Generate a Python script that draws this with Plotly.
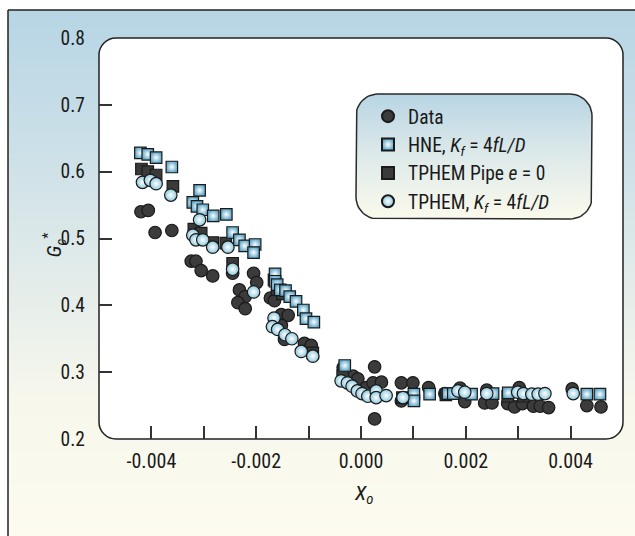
import math
import plotly.graph_objects as go

# ---------------- data (x = X_o, y = G_c*) ----------------
data_x = [-0.00420, -0.00406, -0.00393, -0.00361, -0.00324, -0.00315, -0.00305, -0.00283,
          -0.00245, -0.00232, -0.00221, -0.00235, -0.00221, -0.00205, -0.00199, -0.00173,
          -0.00165, -0.00152, -0.00139, -0.00152, -0.00146, -0.00108, -0.00095,
          -0.00034, -0.00015, -0.00006, 0.00010, 0.00023, 0.00026, 0.00039, 0.00026,
          0.00077, 0.00099, 0.00077, 0.00129, 0.00160, 0.00189, 0.00198, 0.00240,
          0.00236, 0.00250, 0.00280, 0.00293, 0.00302, 0.00308, 0.00329, 0.00342,
          0.00358, 0.00403, 0.00431, 0.00458]
data_y = [0.540, 0.542, 0.509, 0.512, 0.466, 0.466, 0.452, 0.444,
          0.448, 0.423, 0.413, 0.404, 0.395, 0.448, 0.434, 0.411,
          0.407, 0.386, 0.385, 0.370, 0.349, 0.343, 0.340,
          0.307, 0.294, 0.290, 0.277, 0.284, 0.308, 0.285, 0.230,
          0.284, 0.284, 0.257, 0.277, 0.268, 0.276, 0.256, 0.273,
          0.254, 0.254, 0.253, 0.248, 0.277, 0.253, 0.249, 0.249,
          0.247, 0.275, 0.250, 0.248]

hne_x = [-0.00421, -0.00407, -0.00391, -0.00361, -0.00308, -0.00321, -0.00313, -0.00302,
         -0.00282, -0.00257, -0.00245, -0.00232, -0.00222, -0.00202, -0.00205,
         -0.00164, -0.00164, -0.00160, -0.00154, -0.00144, -0.00136, -0.00124, -0.00110,
         -0.00105, -0.00090, -0.00031, 0.00101, 0.00101, 0.00131, 0.00166, 0.00176,
         0.00211, 0.00252, 0.00281, 0.00431, 0.00456]
hne_y = [0.628, 0.626, 0.621, 0.607, 0.572, 0.554, 0.548, 0.543,
         0.534, 0.536, 0.509, 0.498, 0.489, 0.491, 0.479,
         0.447, 0.436, 0.431, 0.423, 0.422, 0.413, 0.406, 0.393,
         0.380, 0.375, 0.310, 0.267, 0.257, 0.267, 0.268, 0.268,
         0.267, 0.268, 0.269, 0.267, 0.267]

pipe_x = [-0.00419, -0.00407, -0.00391, -0.00359, -0.00319, -0.00305, -0.00283, -0.00258,
          -0.00245, -0.00166, -0.00160, -0.00150, -0.00092, -0.00035, 0.00079, 0.00162,
          0.00280, 0.00310]
pipe_y = [0.604, 0.600, 0.595, 0.578, 0.514, 0.508, 0.494, 0.493,
          0.463, 0.438, 0.424, 0.417, 0.329, 0.295, 0.262, 0.266,
          0.264, 0.264]

kf_x = [-0.00417, -0.00402, -0.00391, -0.00363, -0.00308, -0.00321, -0.00315, -0.00302,
        -0.00283, -0.00254, -0.00245, -0.00205, -0.00166, -0.00169, -0.00159, -0.00145,
        -0.00132, -0.00114, -0.00092,
        -0.00038, -0.00026, -0.00017, -0.00007, 0.00002, 0.00013, 0.00029, 0.00029,
        0.00048, 0.00080, 0.00185, 0.00198, 0.00240, 0.00299, 0.00310, 0.00326,
        0.00338, 0.00351, 0.00405]
kf_y = [0.584, 0.587, 0.582, 0.565, 0.528, 0.505, 0.498, 0.498,
        0.487, 0.487, 0.454, 0.420, 0.381, 0.368, 0.364, 0.356,
        0.350, 0.331, 0.324,
        0.287, 0.284, 0.279, 0.272, 0.268, 0.264, 0.272, 0.262,
        0.265, 0.262, 0.272, 0.270, 0.268, 0.270, 0.268, 0.267,
        0.267, 0.268, 0.268]

x_tickvals = [-0.004, -0.002, 0.0, 0.002, 0.004]
x_ticktext = ["-0.004", "-0.002", "0.000", "0.002", "0.004"]
x_minor = [-0.003, -0.001, 0.001, 0.003]
y_tickvals = [0.2, 0.3, 0.4, 0.5, 0.6, 0.7, 0.8]
y_ticktext = ["0.2", "0.3", "0.4", "0.5", "0.6", "0.7", "0.8"]
y_minor = [0.3, 0.4, 0.5, 0.6, 0.7]

# ---------------- geometry helpers ----------------
W, H = 635, 536
ML, MR, MT, MB = 99, 12, 38, 97
PW, PH = W - ML - MR, H - MT - MB
XR = (-0.005, 0.005)
YR = (0.2, 0.8)
FONT = "Roboto Condensed, Liberation Sans Narrow, sans-serif"
TXT = "#1a1a1a"


def pxx(px):
    return (px - ML) / PW


def pxy(py):
    return (H - MB - py) / PH


def dx(px):
    return XR[0] + (px - ML) / PW * (XR[1] - XR[0])


def dy(py):
    return YR[1] - (py - MT) / PH * (YR[1] - YR[0])


def rr_path(x0, y0, x1, y1, r):
    k = 0.5523 * r

    def P(x, y):
        return f"{pxx(x):.5f},{pxy(y):.5f}"
    s = f"M{P(x0 + r, y0)} L{P(x1 - r, y0)} "
    s += f"C{P(x1 - r + k, y0)} {P(x1, y0 + r - k)} {P(x1, y0 + r)} "
    s += f"L{P(x1, y1 - r)} C{P(x1, y1 - r + k)} {P(x1 - r + k, y1)} {P(x1 - r, y1)} "
    s += f"L{P(x0 + r, y1)} C{P(x0 + r - k, y1)} {P(x0, y1 - r + k)} {P(x0, y1 - r)} "
    s += f"L{P(x0, y0 + r)} C{P(x0, y0 + r - k)} {P(x0 + r - k, y0)} {P(x0 + r, y0)} Z"
    return s


def lerp(c1, c2, t):
    return tuple(round(a + (b - a) * t) for a, b in zip(c1, c2))


bg_stops = [(10, (183, 213, 229)), (150, (204, 224, 232)), (280, (227, 236, 234)),
            (400, (247, 247, 236)), (536, (253, 251, 239))]


def bg_color(py):
    for (p0, c0), (p1, c1) in zip(bg_stops[:-1], bg_stops[1:]):
        if p0 <= py <= p1:
            return lerp(c0, c1, (py - p0) / (p1 - p0))
    return bg_stops[-1][1]


shapes = []
step = 3
py = 10
while py < 536:
    c = bg_color(py + step / 2)
    shapes.append(dict(type="rect", xref="paper", yref="paper", layer="below",
                       x0=pxx(8), x1=pxx(640), y0=pxy(py + step + 0.5), y1=pxy(py),
                       fillcolor=f"rgb{c}", line=dict(width=0)))
    py += step
# outer frame (left and top)
shapes.append(dict(type="line", xref="paper", yref="paper", layer="below",
                   x0=pxx(8), x1=pxx(8), y0=pxy(540), y1=pxy(10), line=dict(color="#222", width=1.5)))
shapes.append(dict(type="line", xref="paper", yref="paper", layer="below",
                   x0=pxx(8), x1=pxx(640), y0=pxy(10), y1=pxy(10), line=dict(color="#222", width=1.5)))
# white rounded plot box
shapes.append(dict(type="path", xref="paper", yref="paper", layer="below",
                   path=rr_path(ML, MT, W - MR, H - MB, 17),
                   fillcolor="white", line=dict(color="#222", width=1.5)))

# legend rounded box (filled outline with vertical gradient)
LX0, LY0, LX1, LY1, LR = 356, 94, 592, 219, 22
bx, by = [], []
corners = [(LX1 - LR, LY0 + LR, -90, 0), (LX1 - LR, LY1 - LR, 0, 90),
           (LX0 + LR, LY1 - LR, 90, 180), (LX0 + LR, LY0 + LR, 180, 270)]
for cx, cy, a0, a1 in corners:
    for i in range(13):
        a = math.radians(a0 + (a1 - a0) * i / 12)
        bx.append(dx(cx + LR * math.cos(a)))
        by.append(dy(cy + LR * math.sin(a)))
bx.append(bx[0])
by.append(by[0])

fig = go.Figure()
fig.add_trace(go.Scatter(
    x=bx, y=by, mode="lines", fill="toself", showlegend=False, hoverinfo="skip",
    line=dict(color="#2a2a2a", width=1.5),
    fillgradient=dict(type="vertical", start=dy(LY1), stop=dy(LY0),
                      colorscale=[[0, "rgb(251,250,236)"], [0.5, "rgb(222,234,234)"],
                                  [1, "rgb(184,213,228)"]])))

OUT = dict(color="#1a1a1a", width=1.2)
fig.add_trace(go.Scatter(x=data_x, y=data_y, mode="markers", name="Data", legendrank=1,
                         marker=dict(symbol="circle", size=12.5, color="#3b3b3b", line=OUT)))
fig.add_trace(go.Scatter(x=pipe_x, y=pipe_y, mode="markers", name="TPHEM Pipe <i>e</i> = 0",
                         legendrank=3,
                         marker=dict(symbol="square", size=11.5, color="#3a3a3a", line=OUT)))
fig.add_trace(go.Scatter(x=hne_x, y=hne_y, mode="markers",
                         name="HNE, <i>K<sub>f</sub></i> = 4<i>fL/D</i>", legendrank=2,
                         marker=dict(symbol="square", size=11.5, color="#5fa8c9", line=OUT,
                                     gradient=dict(type="radial", color="#ffffff"))))
fig.add_trace(go.Scatter(x=kf_x, y=kf_y, mode="markers",
                         name="TPHEM, <i>K<sub>f</sub></i> = 4<i>fL/D</i>", legendrank=4,
                         marker=dict(symbol="circle", size=12.5, color="#8cc8dd", line=OUT,
                                     gradient=dict(type="radial", color="#ffffff"))))

fig.update_layout(
    width=W, height=H, margin=dict(l=ML, r=MR, t=MT, b=MB),
    paper_bgcolor="white", plot_bgcolor="rgba(0,0,0,0)",
    font=dict(family=FONT, size=19, color=TXT),
    shapes=shapes,
    showlegend=True,
    legend=dict(x=pxx(368), y=pxy(97), xanchor="left", yanchor="top",
                bgcolor="rgba(0,0,0,0)", borderwidth=0, itemsizing="constant",
                font=dict(family=FONT, size=19.5, color=TXT), traceorder="normal"),
    xaxis=dict(range=list(XR), showgrid=False, zeroline=False, showline=False,
               tickmode="array", tickvals=x_tickvals, ticktext=x_ticktext,
               ticks="inside", ticklen=13, tickwidth=1.5, tickcolor="#333",
               ticklabelstandoff=8, tickfont=dict(family=FONT, size=20, color=TXT),
               minor=dict(tickmode="array", tickvals=x_minor, ticks="inside",
                          ticklen=13, tickwidth=1.5, tickcolor="#333", showgrid=False)),
    yaxis=dict(range=list(YR), showgrid=False, zeroline=False, showline=False,
               tickmode="array", tickvals=y_tickvals, ticktext=y_ticktext,
               ticks="", ticklabelstandoff=13, tickfont=dict(family=FONT, size=19.5, color=TXT),
               minor=dict(tickmode="array", tickvals=y_minor, ticks="inside",
                          ticklen=13, tickwidth=1.5, tickcolor="#333", showgrid=False)),
    annotations=[
        dict(text="<i>G</i><sub><i>c</i></sub><sup>*</sup>", xref="paper", yref="paper",
             x=pxx(37), y=pxy(245), showarrow=False, textangle=-90,
             font=dict(family=FONT, size=21, color=TXT)),
        dict(text="<i>X</i><sub><i>o</i></sub>", xref="paper", yref="paper",
             x=pxx(363), y=pxy(510), showarrow=False,
             font=dict(family=FONT, size=21, color=TXT)),
    ],
)

fig.write_html("out.html")
